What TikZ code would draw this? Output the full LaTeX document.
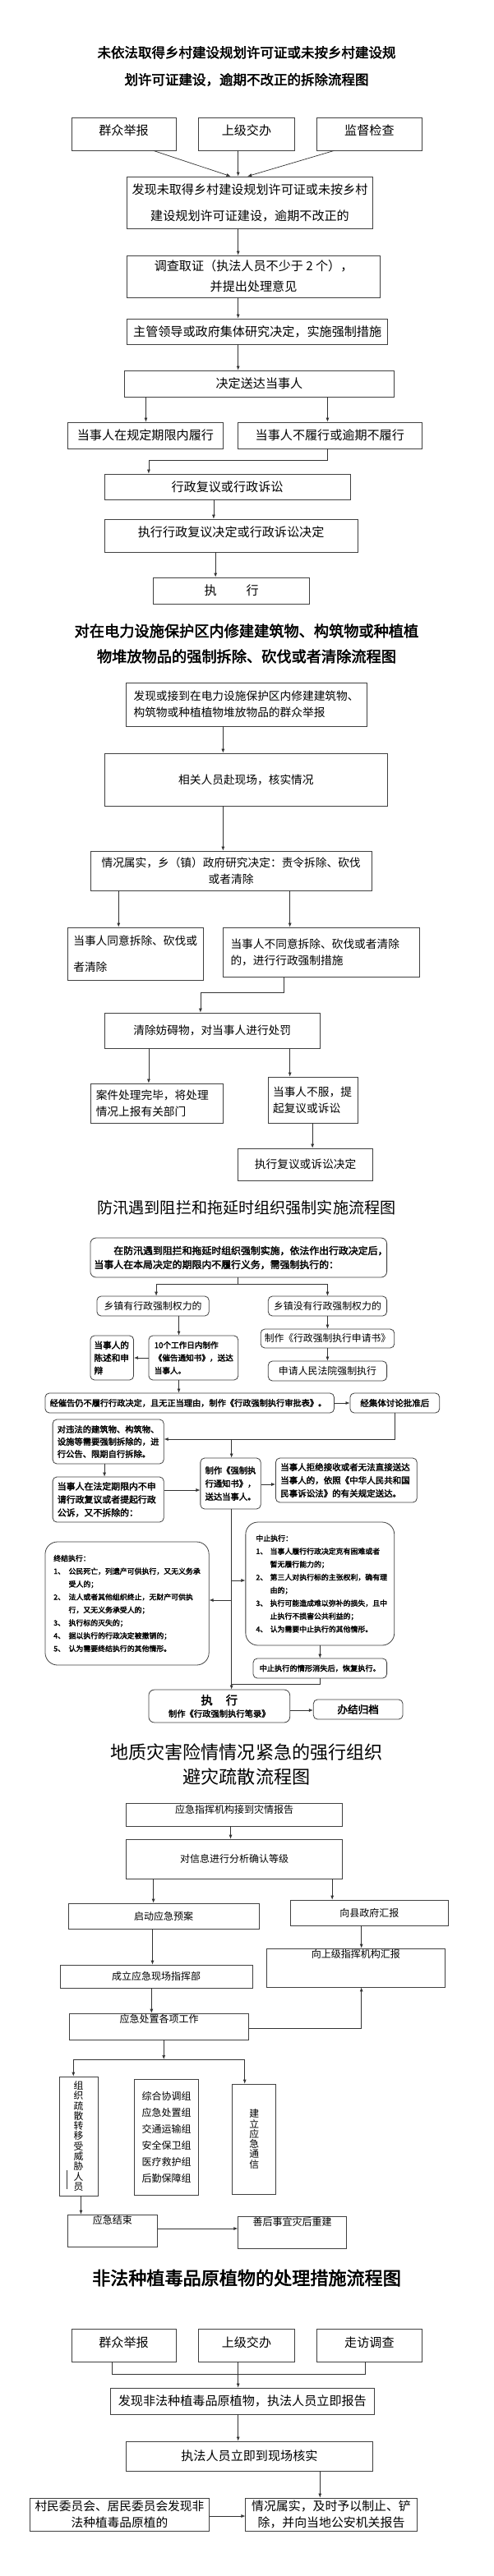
\documentclass[tikz,border=0pt]{standalone}
\usepackage{fontspec}
\newfontfamily\cjk{Noto Sans CJK SC}
\newfontfamily\cjkb{Noto Sans CJK SC}[FakeBold=2.5]
\usetikzlibrary{arrows.meta}
\newcommand\fsz[2]{\fontsize{#1}{#2}\selectfont}
\newcommand\mysx{1.145}
% name, x0, y0, x1, y1, style, text
\newcommand\mkbox[7]{%
  \pgfmathsetmacro\mkw{(#4-#2)*\mysx}\pgfmathsetmacro\mkh{#5-#3}%
  \node[#6, minimum width=\mkw pt, minimum height=\mkh pt] (#1) at ({(#2+#4)/2},{(#3+#5)/2}) {#7};}
% name, x0, y0, x1, y1, pad, style, text  (left aligned)
\newcommand\mkboxl[8]{%
  \pgfmathsetmacro\mkw{(#4-#2)*\mysx}\pgfmathsetmacro\mkh{#5-#3}%
  \pgfmathsetmacro\mktw{(#4-#2-2*#6)*\mysx}\pgfmathsetmacro\mkp{#6*\mysx}%
  \node[#7, align=left, text width=\mktw pt, inner xsep=\mkp pt, minimum width=\mkw pt, minimum height=\mkh pt] (#1) at ({(#2+#4)/2},{(#3+#5)/2}) {#8};}
\tikzset{
  bx/.style={draw=black!75, line width=0.8pt, inner sep=0pt, align=center, font=\cjk\fsz{15.1}{20}},
  rb/.style={bx, rounded corners=5pt},
  bxf/.style={draw=black!75, line width=0.7pt, inner sep=0pt, align=center, font=\cjk\fsz{12}{20}},
  ar/.style={draw=black!80, line width=0.7pt, -{Latex[length=5pt,width=4pt]}},
  ln/.style={draw=black!80, line width=0.7pt},
  ttl/.style={align=center, inner sep=0pt},
}
\begin{document}
\begin{tikzpicture}[x=1.145pt,y=-1pt]
\fill[white] (0,0) rectangle (524.02,3136);
\useasboundingbox (0,0) rectangle (524.02,3136);

% ---------------- Section 1 ----------------
\node[ttl, font=\cjkb\fsz{16.5}{33}] (t1) at (262,80.5) {未依法取得乡村建设规划许可证或未按乡村建设规\\划许可证建设，逾期不改正的拆除流程图};
\mkbox{b1a}{76}{143}{187}{183}{bx,text height=13.3pt,text depth=9.8pt}{群众举报}
\mkbox{b1b}{211}{143}{313}{183}{bx,text height=13.3pt,text depth=9.8pt}{上级交办}
\mkbox{b1c}{337}{143}{448}{183}{bx,text height=13.3pt,text depth=9.8pt}{监督检查}
\mkbox{b1d}{135}{215}{396}{278}{bx,font=\cjk\fsz{15.1}{32}}{发现未取得乡村建设规划许可证或未按乡村\\建设规划许可证建设，逾期不改正的}
\mkbox{b1e}{135}{311}{404}{362}{bx,font=\cjk\fsz{15.1}{25}}{调查取证（执法人员不少于 2 个），\\并提出处理意见}
\mkbox{b1f}{135}{388}{412}{419}{bx}{主管领导或政府集体研究决定，实施强制措施}
\mkbox{b1g}{132}{451}{419}{483}{bx}{决定送达当事人}
\mkbox{b1h}{72}{514}{237}{546}{bx}{当事人在规定期限内履行}
\mkbox{b1i}{253}{514}{448}{546}{bx}{当事人不履行或逾期不履行}
\mkbox{b1j}{111}{577}{372}{608}{bx}{行政复议或行政诉讼}
\mkbox{b1k}{111}{632}{380}{672}{bx,text height=13.3pt,text depth=9.8pt}{执行行政复议决定或行政诉讼决定}
\mkbox{b1l}{163}{703}{329}{735}{bx}{执\hspace{36pt}行}

\draw[ar] (b1a.south -| 163,0) -- (b1d.north -| 245,0);
\draw[ar] (b1b.south -| 253,0) -- (b1d.north -| 253,0);
\draw[ar] (b1c.south -| 355,0) -- (b1d.north -| 263,0);
\draw[ar] (b1d.south -| 253,0) -- (b1e.north -| 253,0);
\draw[ar] (b1e.south -| 253,0) -- (b1f.north -| 253,0);
\draw[ar] (b1f.south -| 253,0) -- (b1g.north -| 253,0);
\draw[ar] (b1g.south -| 155,0) -- (b1h.north -| 155,0);
\draw[ar] (b1g.south -| 348,0) -- (b1i.north -| 348,0);
\draw[ar] (b1i.south -| 348,0) |- (158,560) -- (b1j.north -| 158,0);
\draw[ar] (b1j.south -| 227,0) -- (b1k.north -| 227,0);
\draw[ar] (b1k.south -| 229,0) -- (b1l.north -| 229,0);

% ---------------- Section 2 ----------------
\node[ttl, font=\cjkb\fsz{18.2}{31}] (t2) at (262,783.5) {对在电力设施保护区内修建建筑物、构筑物或种植植\\物堆放物品的强制拆除、砍伐或者清除流程图};
\mkboxl{b2a}{134}{831}{390}{884}{8}{bx,font=\cjk\fsz{13.7}{20}}{发现或接到在电力设施保护区内修建建筑物、\\构筑物或种植植物堆放物品的群众举报}
\mkbox{b2b}{111}{917}{412}{981}{bx,font=\cjk\fsz{13.7}{20}}{相关人员赴现场，核实情况}
\mkbox{b2c}{96}{1036}{395}{1084}{bx,font=\cjk\fsz{13.7}{20}}{情况属实，乡（镇）政府研究决定：责令拆除、砍伐\\或者清除}
\mkboxl{b2d}{72}{1129}{216}{1193}{6}{bx,font=\cjk\fsz{13.7}{32}}{当事人同意拆除、砍伐或\\者清除}
\mkboxl{b2e}{237}{1129}{446}{1189}{8}{bx,font=\cjk\fsz{13.7}{20}}{当事人不同意拆除、砍伐或者清除\\的，进行行政强制措施}
\mkbox{b2f}{111}{1233}{340}{1276}{bx,font=\cjk\fsz{13.7}{20}}{清除妨碍物，对当事人进行处罚}
\mkboxl{b2g}{96}{1319}{237}{1367}{6}{bx,font=\cjk\fsz{13.7}{20}}{案件处理完毕，将处理\\情况上报有关部门}
\mkboxl{b2h}{285}{1311}{380}{1367}{5}{bx,font=\cjk\fsz{13.7}{20}}{当事人不服，提\\起复议或诉讼}
\mkbox{b2i}{253}{1398}{396}{1437}{bx,font=\cjk\fsz{13.7}{20}}{执行复议或诉讼决定}

\draw[ar] (b2a.south -| 237,0) -- (b2b.north -| 237,0);
\draw[ar] (b2b.south -| 237,0) -- (b2c.north -| 237,0);
\draw[ar] (b2c.south -| 126,0) -- (b2d.north -| 126,0);
\draw[ar] (b2c.south -| 308,0) -- (b2e.north -| 308,0);
\draw[ar] (b2e.south -| 302,0) |- (213,1208) -- (b2f.north -| 213,0);
\draw[ar] (b2f.south -| 158,0) -- (b2g.north -| 158,0);
\draw[ar] (b2f.south -| 308,0) -- (b2h.north -| 308,0);
\draw[ar] (b2h.south -| 332,0) -- (b2i.north -| 332,0);

% ---------------- Section 3 ----------------
\node[ttl, font=\cjk\fsz{19.1}{22}] (t3) at (262,1470) {防汛遇到阻拦和拖延时组织强制实施流程图};
\mkboxl{b3a}{96}{1507}{411}{1555}{4}{rb,rounded corners=7pt,font=\cjkb\fsz{11.9}{17}}{\hspace*{23.8pt}在防汛遇到阻拦和拖延时组织强制实施，依法作出行政决定后，\\当事人在本局决定的期限内不履行义务，需强制执行的：}
\mkbox{b3b}{103}{1578}{222}{1602}{rb,font=\cjk\fsz{11.9}{14}}{乡镇有行政强制权力的}
\mkbox{b3c}{285}{1578}{411}{1602}{rb,font=\cjk\fsz{11.9}{14}}{乡镇没有行政强制权力的}
\mkboxl{b3d}{158}{1626}{253}{1680}{6}{rb,font=\cjkb\fsz{9.6}{15.5}}{10个工作日内制作\\《催告通知书》，送达\\当事人。}
\mkboxl{b3e}{96}{1626}{142}{1680}{4}{rb,font=\cjkb\fsz{10.6}{15.5}}{当事人的\\陈述和申\\辩}
\mkbox{b3f}{277}{1618}{419}{1641}{rb,font=\cjk\fsz{11.8}{14}}{制作《行政强制执行申请书》}
\mkbox{b3g}{285}{1657}{411}{1681}{rb,font=\cjk\fsz{11.9}{14}}{申请人民法院强制执行}
\mkboxl{b3h}{48}{1696}{355}{1720}{5}{rb,font=\cjkb\fsz{10.2}{14}}{经催告仍不履行行政决定，且无正当理由，制作《行政强制执行审批表》。}
\mkbox{b3i}{372}{1696}{467}{1720}{rb,font=\cjkb\fsz{10.5}{14}}{经集体讨论批准后}
\mkboxl{b3j}{56}{1728}{174}{1782}{5}{rb,font=\cjkb\fsz{10.3}{15}}{对违法的建筑物、构筑物、\\设施等需要强制拆除的，进\\行公告、限期自行拆除。}
\mkboxl{b3k}{56}{1798}{174}{1853}{5}{rb,font=\cjkb\fsz{10.9}{16}}{当事人在法定期限内不申\\请行政复议或者提起行政\\公诉，又不拆除的：}
\mkboxl{b3l}{213}{1775}{277}{1837}{5}{rb,font=\cjkb\fsz{10.3}{16}}{制作《强制执\\行通知书》，\\送达当事人。}
\mkboxl{b3m}{293}{1775}{443}{1829}{5}{rb,font=\cjkb\fsz{10.5}{16}}{当事人拒绝接收或者无法直接送达\\当事人的，依照《中华人民共和国\\民事诉讼法》的有关规定送达。}
\mkboxl{b3n}{48}{1877}{222}{2027}{9}{bx,rounded corners=15pt,font=\cjkb\fsz{8.9}{15.7}}{终结执行：\\
\makebox[18.3pt][l]{1、}公民死亡，列遗产可供执行，又无义务承\\
\hspace*{18.3pt}受人的；\\
\makebox[18.3pt][l]{2、}法人或者其他组织终止，无财产可供执\\
\hspace*{18.3pt}行，又无义务承受人的；\\
\makebox[18.3pt][l]{3、}执行标的灭失的；\\
\makebox[18.3pt][l]{4、}据以执行的行政决定被撤销的；\\
\makebox[18.3pt][l]{5、}认为需要终结执行的其他情形。}
\mkboxl{b3o}{261}{1853}{419}{2003}{11}{bx,rounded corners=15pt,font=\cjkb\fsz{8.9}{15.8}}{中止执行：\\
\makebox[17.2pt][l]{1、}当事人履行行政决定克有困难或者\\
\hspace*{17.2pt}暂无履行能力的；\\
\makebox[17.2pt][l]{2、}第三人对执行标的主张权利，确有理\\
\hspace*{17.2pt}由的；\\
\makebox[17.2pt][l]{3、}执行可能造成难以弥补的损失，且中\\
\hspace*{17.2pt}止执行不损害公共利益的；\\
\makebox[17.2pt][l]{4、}认为需要中止执行的其他情形。}
\mkbox{b3p}{269}{2019}{411}{2043}{rb,font=\cjkb\fsz{9.2}{14}}{中止执行的情形消失后，恢复执行。}
\mkbox{b3q}{158}{2057}{308}{2097}{rb,rounded corners=7pt,font=\cjkb\fsz{10.3}{15}}{{\fsz{14.3}{15}执\hspace{16pt}行}\\制作《行政强制执行笔录》}
\mkbox{b3r}{333}{2069}{428}{2093}{rb,font=\cjkb\fsz{12.6}{14}}{办结归档}

\coordinate (j3a) at (253,1563);
\draw[ln] (b3a.south -| 253,0) -- (j3a);
\draw[ar] (j3a) -| (b3b.north -| 166,0);
\draw[ar] (j3a) -| (b3c.north -| 348,0);
\draw[ar] (b3b.south -| 190,0) -- (b3d.north -| 190,0);
\draw[ar] (b3d.west |- 0,1653) -- (b3e.east |- 0,1653);
\draw[ar] (b3c.south -| 348,0) -- (b3f.north -| 348,0);
\draw[ar] (b3f.south -| 348,0) -- (b3g.north -| 348,0);
\draw[ar] (b3d.south -| 190,0) -- (b3h.north -| 190,0);
\draw[ar] (b3h.east) -- (b3i.west);
\coordinate (j3b) at (246,1752);
\draw[ar] (b3i.south) |- (b3j.east |- 0,1752);
\draw[ar] (j3b) -- (b3l.north -| 246,0);
\draw[ar] (b3j.south -| 111,0) -- (b3k.north -| 111,0);
\draw[ar] (b3k.east |- 0,1814) -- (b3l.west |- 0,1814);
\draw[ar] (b3l.east |- 0,1807) -- (b3m.west |- 0,1807);
\draw[ar] (b3l.south -| 246,0) -- (b3q.north -| 246,0);
\coordinate (j3c) at (246,1924);
\coordinate (j3d) at (246,1948);
\draw[ar] (j3c) -- (b3o.west |- 0,1924);
\draw[ar] (j3d) -- (b3n.east |- 0,1948);
\draw[ar] (b3o.south -| 340,0) -- (b3p.north -| 340,0);
\coordinate (j3e) at (246,2050);
\draw[ln] (b3p.south -| 340,0) |- (j3e);
\draw[ar] (b3q.east |- 0,2082) -- (b3r.west |- 0,2082);

% ---------------- Section 4 ----------------
\node[ttl, font=\cjk\fsz{22.1}{30}] (t4) at (262,2148) {地质灾害险情情况紧急的强行组织\\避灾疏散流程图};
\mkbox{b4a}{134}{2195}{364}{2223}{bxf,text height=10.6pt,text depth=13.5pt}{应急指挥机构接到灾情报告}
\mkbox{b4b}{134}{2239}{364}{2287}{bxf}{对信息进行分析确认等级}
\mkbox{b4c}{73}{2317}{275}{2348}{bxf}{启动应急预案}
\mkbox{b4d}{309}{2313}{476}{2344}{bxf}{向县政府汇报}
\mkbox{b4e}{283}{2372}{473}{2419}{bxf,text height=10.6pt,text depth=34.5pt}{向上级指挥机构汇报}
\mkbox{b4f}{64}{2392}{268}{2420}{bxf}{成立应急现场指挥部}
\mkbox{b4g}{74}{2451}{264}{2483}{bxf,text height=10.6pt,text depth=19.5pt}{应急处置各项工作}
\mkbox{b4h}{63}{2528}{104}{2673}{bxf,font=\cjk\fsz{11.8}{12.3}}{组\\织\\疏\\散\\转\\移\\受\\威\\胁\\人\\员}
\mkbox{b4i}{143}{2531}{211}{2672}{bxf,font=\cjk\fsz{12}{20}}{综合协调组\\应急处置组\\交通运输组\\安全保卫组\\医疗救护组\\后勤保障组}
\mkbox{b4j}{247}{2537}{293}{2671}{bxf,font=\cjk\fsz{11.8}{12.3}}{建\\立\\应\\急\\通\\信}
\mkbox{b4k}{72}{2696}{167}{2735}{bxf,text height=10.6pt,text depth=26.5pt}{应急结束}
\mkbox{b4l}{253}{2698}{368}{2737}{bxf,text height=10.6pt,text depth=26.5pt}{善后事宜灾后重建}
\draw[ln, line width=0.6pt] (71,2642) -- (71,2665);

\draw[ar] (b4a.south -| 245,0) -- (b4b.north -| 245,0);
\draw[ar] (b4b.south -| 163,0) -- (b4c.north -| 163,0);
\draw[ar] (b4b.south -| 353,0) -- (b4d.north -| 353,0);
\draw[ar] (b4c.south -| 162,0) -- (b4f.north -| 162,0);
\draw[ar] (b4d.south -| 384,0) -- (b4e.north -| 384,0);
\draw[ar] (b4f.south -| 161,0) -- (b4g.north -| 161,0);
\draw[ar] (b4g.east |- 0,2469) -| (b4e.south -| 384,0);
\coordinate (j4) at (174,2507);
\draw[ar] (b4g.south -| 174,0) -- (j4);
\draw[ar] (j4) -| (b4h.north -| 78,0);
\draw[ar] (j4) -| (b4j.north -| 260,0);
\draw[ar] (b4h.south -| 86,0) -- (b4k.north -| 86,0);
\draw[ar] (b4k.east |- 0,2713) -- (b4l.west |- 0,2713);

% ---------------- Section 5 ----------------
\node[ttl, font=\cjkb\fsz{22.1}{26}] (t5) at (262,2773) {非法种植毒品原植物的处理措施流程图};
\mkbox{b5a}{76}{2835}{187}{2875}{bx,text height=13.3pt,text depth=7.8pt}{群众举报}
\mkbox{b5b}{211}{2835}{313}{2875}{bx,text height=13.3pt,text depth=7.8pt}{上级交办}
\mkbox{b5c}{337}{2835}{448}{2875}{bx,text height=13.3pt,text depth=7.8pt}{走访调查}
\mkbox{b5d}{117}{2907}{398}{2939}{bx}{发现非法种植毒品原植物，执法人员立即报告}
\mkbox{b5e}{134}{2972}{396}{3008}{bx}{执法人员立即到现场核实}
\mkbox{b5f}{32}{3041}{222}{3081}{bx,font=\cjk\fsz{14.7}{20}}{村民委员会、居民委员会发现非\\法种植毒品原植的}
\mkbox{b5g}{261}{3041}{443}{3081}{bx,font=\cjk\fsz{14.9}{20}}{情况属实，及时予以制止、铲\\除，并向当地公安机关报告}

\coordinate (j5a) at (119,2890);
\coordinate (j5b) at (388,2890);
\draw[ln] (b5a.south -| 119,0) -- (j5a) -- (j5b) -- (b5c.south -| 388,0);
\draw[ar] (b5b.south -| 253,0) -- (b5d.north -| 253,0);
\draw[ar] (b5d.south -| 253,0) -- (b5e.north -| 253,0);
\draw[ar] (b5e.south -| 340,0) -- (b5g.north -| 340,0);
\draw[ar] (b5f.east |- 0,3063) -- (b5g.west |- 0,3063);
\end{tikzpicture}
\end{document}
